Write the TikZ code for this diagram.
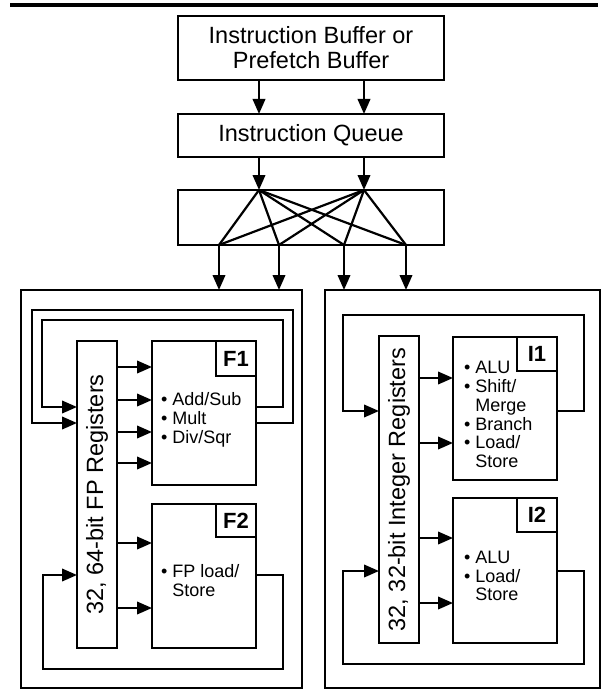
\documentclass[tikz,border=0pt]{standalone}
\usepackage{fontspec}
\setmainfont{Liberation Sans}
\usetikzlibrary{arrows.meta}
\usetikzlibrary{positioning}
\usetikzlibrary{calc}
\tikzset{
  % filled triangle tips as in the figure
  >={Triangle[length=15pt,width=12.5pt]},
  line/.style={draw, ->},
  panel/.style={draw, rectangle, outer sep=0pt, minimum width=#1, minimum height=398pt},
  regs/.style={draw, rectangle, outer sep=0pt, minimum width=40pt, minimum height=307pt}
}

\begin{document}
\begin{tikzpicture}[x=1pt, y=-1pt, line width=2.2pt, node distance=34pt]
    % Define styles
    \tikzstyle{block} = [rectangle, draw, outer sep=0pt, minimum width=266pt, align=center, font=\fontsize{23.5}{25}\selectfont]
    \tikzstyle{unit} = [rectangle, draw, outer sep=0pt, anchor=north west, minimum width=104pt]
    \tikzstyle{tag} = [rectangle, draw, outer sep=0pt, anchor=north east, minimum width=40pt, minimum height=35pt, font=\bfseries\fontsize{22}{22}\selectfont]
    \tikzstyle{ops} = [anchor=west, inner sep=0pt, align=left, font=\fontsize{18}{18.8}\selectfont]
    \tikzstyle{regtext} = [rotate=90, inner sep=0pt, font=\fontsize{23.5}{25}\selectfont]

    \useasboundingbox (0,0) rectangle (608,690);
    \draw[line width=4pt] (10,5) -- (598,5);

    % Place nodes
    \node [block, minimum height=64pt] (buffer) at (311,48) {Instruction Buffer or\\Prefetch Buffer};
    \node [block, minimum height=43pt, below=of buffer] (queue) {Instruction Queue};
    \node [block, minimum height=55pt, below=33pt of queue] (xbar) {};

    \node [panel=281pt] (fpunit) at (161.5,489) {};
    \node [panel=275pt, right=23pt of fpunit] (intunit) {};

    \node [regs] (fpreg) at (97,494.5) {};
    \node [regtext] (fpregtext) at (fpreg.center) {32, 64-bit FP Registers};
    \node [unit, minimum height=144pt] (fone) at (152,341) {};
    \node [tag] (fonetag) at (fone.north east) {F1};
    \node [unit, minimum height=144pt] (ftwo) at (152,504) {};
    \node [tag, minimum height=33pt] (ftwotag) at (ftwo.north east) {F2};

    \node [regs] (intreg) at (399,489.5) {};
    \node [regtext] (intregtext) at (intreg.center) {32, 32-bit Integer Registers};
    \node [unit, minimum height=143pt] (ione) at (453,337) {};
    \node [tag, minimum height=34pt] (ionetag) at (ione.north east) {I1};
    \node [unit, minimum height=145pt] (itwo) at (453,498) {};
    \node [tag, minimum height=34pt] (itwotag) at (itwo.north east) {I2};

    \node [ops] (fonetext) at (160,420) {\textbullet\ Add/Sub\\\textbullet\ Mult\\\textbullet\ Div/Sqr};
    \node [ops] (ftwotext) at (160,580.5) {\textbullet\ FP load/\\\phantom{\textbullet\ }Store};
    \node [ops] (ionetext) at (463,414.5) {\textbullet\ ALU\\\textbullet\ Shift/\\\phantom{\textbullet\ }Merge\\\textbullet\ Branch\\\textbullet\ Load/\\\phantom{\textbullet\ }Store};
    \node [ops] (itwotext) at (463,576) {\textbullet\ ALU\\\textbullet\ Load/\\\phantom{\textbullet\ }Store};

    % Crossbar
    \coordinate (in1) at ($(xbar.north)+(-52,0)$);
    \coordinate (in2) at ($(xbar.north)+(53,0)$);
    \coordinate (out1) at ($(xbar.south)+(-92,0)$);
    \coordinate (out2) at ($(xbar.south)+(-32,0)$);
    \coordinate (out3) at ($(xbar.south)+(33,0)$);
    \coordinate (out4) at ($(xbar.south)+(95,0)$);
    \foreach \i in {in1,in2}
      \foreach \o in {out1,out2,out3,out4}
        \draw (\i) -- (\o);

    % Draw edges
    \path [line] (buffer.south -| in1) -- (queue.north -| in1);
    \path [line] (buffer.south -| in2) -- (queue.north -| in2);
    \path [line] (queue.south -| in1) -- (in1);
    \path [line] (queue.south -| in2) -- (in2);
    \path [line] (out1) -- (out1 |- fpunit.north);
    \path [line] (out2) -- (out2 |- fpunit.north);
    \path [line] (out3) -- (out3 |- intunit.north);
    \path [line] (out4) -- (out4 |- intunit.north);

    \foreach \y in {367,400,432,463}
      \path [line] (fpreg.east |- 0,\y) -- (fone.west |- 0,\y);
    \foreach \y in {543,608}
      \path [line] (fpreg.east |- 0,\y) -- (ftwo.west |- 0,\y);
    \foreach \y in {378,443}
      \path [line] (intreg.east |- 0,\y) -- (ione.west |- 0,\y);
    \foreach \y in {538,603}
      \path [line] (intreg.east |- 0,\y) -- (itwo.west |- 0,\y);

    % Feedback loops
    \path [line] (fone.east |- 0,407) -| (283,320) -| (42,407) -- (fpreg.west |- 0,407);
    \path [line] (fone.east |- 0,423) -| (293,310) -| (32,423) -- (fpreg.west |- 0,423);
    \path [line] (ftwo.east |- 0,575) -| (283,669) -| (43,575) -- (fpreg.west |- 0,575);
    \path [line] (ione.east |- 0,411) -| (584,315) -| (343,411) -- (intreg.west |- 0,411);
    \path [line] (itwo.east |- 0,571) -| (584,664) -| (343,571) -- (intreg.west |- 0,571);

\end{tikzpicture}
\end{document}
